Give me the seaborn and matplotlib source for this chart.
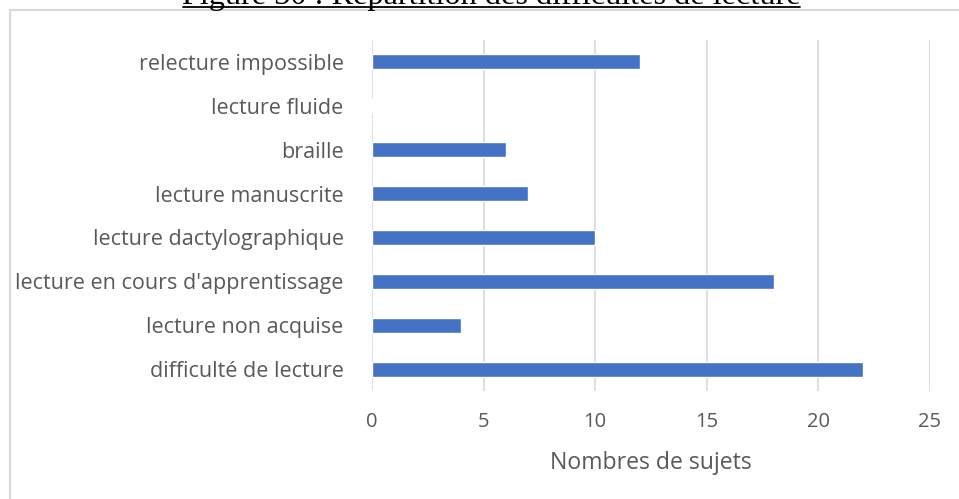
import matplotlib
matplotlib.use("Agg")
import matplotlib.pyplot as plt
import seaborn as sns
import pandas as pd
from matplotlib.patches import Rectangle
from matplotlib.lines import Line2D

categories = [
    "relecture impossible",
    "lecture fluide",
    "braille",
    "lecture manuscrite",
    "lecture dactylographique",
    "lecture en cours d'apprentissage",
    "lecture non acquise",
    "difficulté de lecture",
]
values = [12, 0, 6, 7, 10, 18, 4, 22]
xticks = [0, 5, 10, 15, 20, 25]
title = "Figure 30 : Répartition des difficultés de lecture"
xlabel = "Nombres de sujets"

sns.set_theme(style="white")
plt.rcParams["font.family"] = ["Open Sans", "DejaVu Sans"]

W, H = 959, 499
fig = plt.figure(figsize=(W / 100, H / 100), dpi=100)
ax = fig.add_axes([372 / W, 1 - 391 / H, (930 - 372) / W, (391 - 40) / H])

df = pd.DataFrame({"cat": categories, "val": values})
sns.barplot(data=df, y="cat", x="val", order=categories, orient="h",
            color="#4472C4", saturation=1, width=0.34, ax=ax, zorder=3)

ax.set_xlim(0, 25)
ax.set_xticks(xticks)
ax.set_xticklabels([str(t) for t in xticks])
ax.grid(axis="x", color="#D9D9D9", linewidth=1.2, zorder=0)
ax.grid(axis="y", visible=False)
for s in ax.spines.values():
    s.set_visible(False)
ax.tick_params(axis="both", length=0, labelcolor="#595959")
ax.tick_params(axis="y", pad=20.5, labelsize=15.5)
ax.tick_params(axis="x", pad=15, labelsize=14.5)
ax.set_ylabel("")
ax.set_xlabel(xlabel, fontsize=16.6, color="#595959", labelpad=14)

# outer chart border
fig.patches.append(Rectangle((10 / W, -0.05), 1.0, 1 - 10 / H + 0.05,
                             transform=fig.transFigure, fill=False,
                             edgecolor="#D9D9D9", linewidth=1.5))

# cropped underlined title
fig.text(491.5 / W, 1 - 4 / H, title, ha="center", va="baseline",
         fontsize=23.2, family="Liberation Serif", color="black")
fig.lines.append(Line2D([183 / W, 800 / W], [1 - 6.5 / H, 1 - 6.5 / H],
                        transform=fig.transFigure, color="black", linewidth=1.3))

fig.savefig("out.png", dpi=100)
